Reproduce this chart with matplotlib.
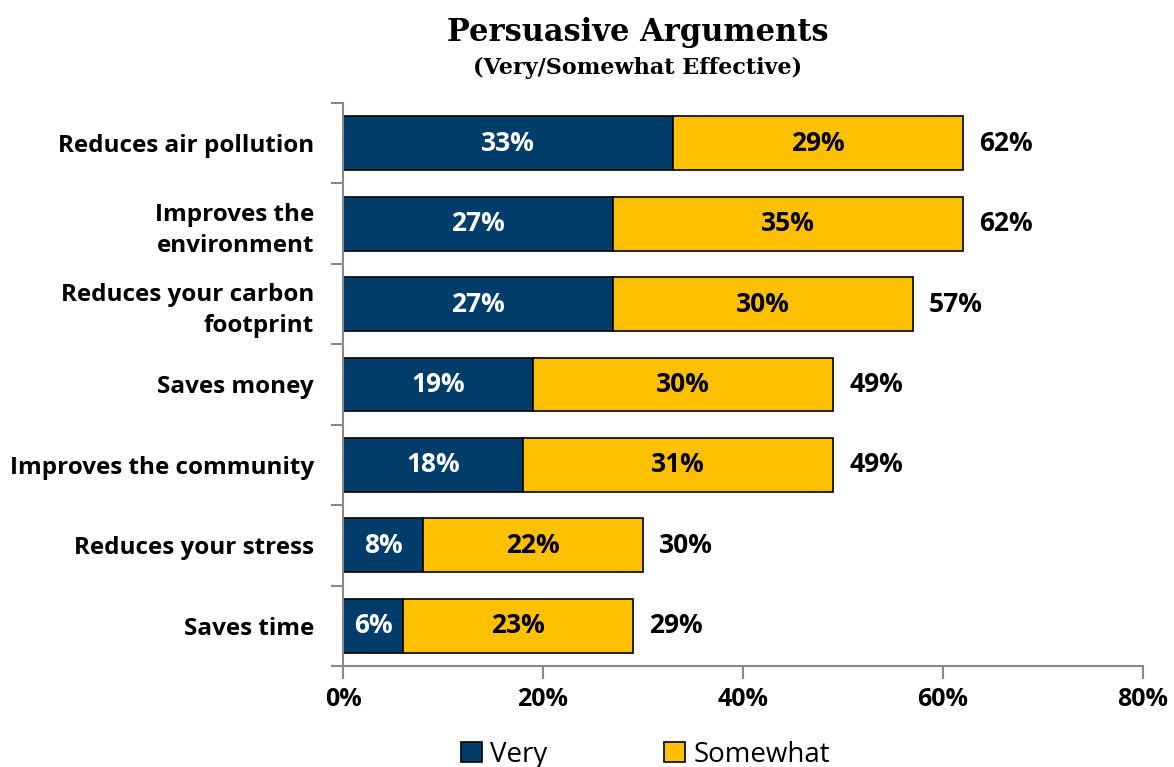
import matplotlib.pyplot as plt

categories = ['Reduces air pollution', 'Improves the\nenvironment', 'Reduces your carbon\nfootprint',
              'Saves money', 'Improves the community', 'Reduces your stress', 'Saves time']
very = [33, 27, 27, 19, 18, 8, 6]
somewhat = [29, 35, 30, 30, 31, 22, 23]
totals = [62, 62, 57, 49, 49, 30, 29]
xticks = [0, 20, 40, 60, 80]

navy = '#003D6B'
gold = '#FFC000'
font = 'Open Sans'


def main():
    fig = plt.figure(figsize=(11.74, 7.67), dpi=100)
    ax = fig.add_axes([0.2922, 0.1317, 0.6814, 0.734])
    y = list(range(len(categories)))

    b1 = ax.barh(y, very, height=0.67, color=navy, edgecolor='black', linewidth=1.2, label='Very')
    b2 = ax.barh(y, somewhat, left=very, height=0.67, color=gold, edgecolor='black', linewidth=1.2,
                 label='Somewhat')

    for i in y:
        ax.text(very[i] / 2, i, f'{very[i]}%', ha='center', va='center', color='white',
                fontsize=19, fontweight='bold', family=font)
        ax.text(very[i] + somewhat[i] / 2, i, f'{somewhat[i]}%', ha='center', va='center',
                color='black', fontsize=19, fontweight='bold', family=font)
        ax.text(totals[i] + 1.6, i, f'{totals[i]}%', ha='left', va='center', color='black',
                fontsize=19, fontweight='bold', family=font)

    ax.set_xlim(0, 80)
    ax.set_ylim(len(categories) - 0.5, -0.5)
    ax.set_xticks(xticks)
    ax.set_xticklabels([f'{t}%' for t in xticks], fontsize=18, fontweight='bold', family=font)
    ax.set_yticks(y)
    ax.set_yticklabels(categories, fontsize=17.5, fontweight='bold', family=font, linespacing=1.4)
    ax.set_yticks([i - 0.5 for i in range(len(categories) + 1)], minor=True)
    ax.tick_params(axis='y', which='major', length=0, pad=21)
    ax.tick_params(axis='y', which='minor', length=9, width=1.5, color='#888888', direction='out')
    ax.tick_params(axis='x', length=9, width=1.5, color='#888888', direction='out', pad=6)

    for s in ['top', 'right']:
        ax.spines[s].set_visible(False)
    for s in ['left', 'bottom']:
        ax.spines[s].set_color('#888888')
        ax.spines[s].set_linewidth(1.5)

    fig.text(0.543, 0.958, 'Persuasive Arguments', ha='center', va='center', fontsize=22,
             fontweight='bold', family='DejaVu Serif')
    fig.text(0.543, 0.912, '(Very/Somewhat Effective)', ha='center', va='center', fontsize=16,
             fontweight='bold', family='DejaVu Serif')

    fig.legend(handles=[b1, b2], loc='center', bbox_to_anchor=(0.55, 0.016), ncol=2, frameon=False,
               prop={'family': font, 'size': 20}, handlelength=0.75, handleheight=0.75,
               columnspacing=4.2, handletextpad=0.3)

    fig.savefig('out.png', dpi=100)


if __name__ == '__main__':
    main()
